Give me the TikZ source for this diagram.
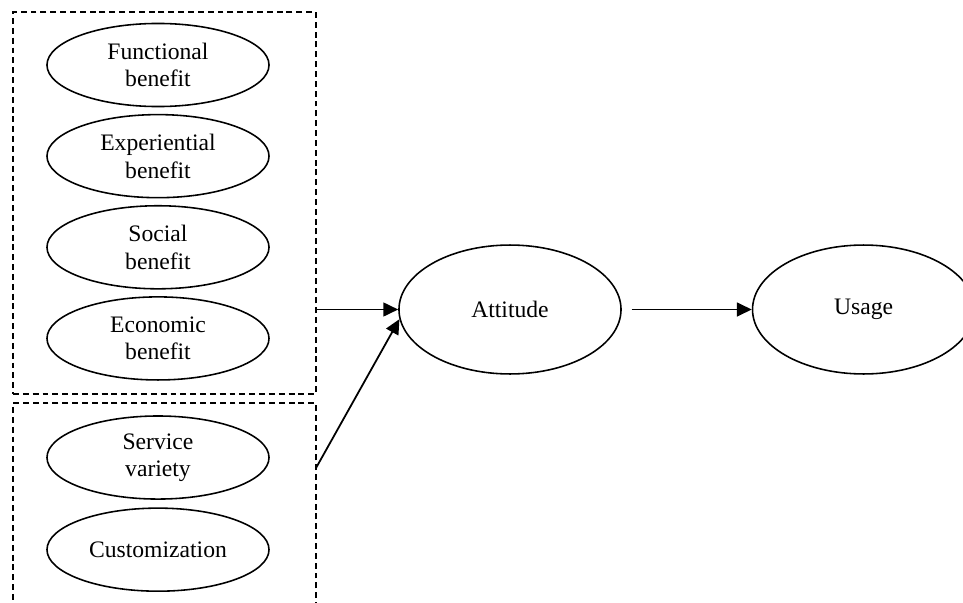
\documentclass[tikz,border=0pt]{standalone}
\usepackage{fontspec}
\setmainfont{Liberation Serif}
\usetikzlibrary{arrows.meta, positioning, shapes.geometric}

\begin{document}
\begin{tikzpicture}[
    x=0.508pt, y=-0.508pt,
    construct/.style={draw, ellipse, line width=0.8pt, inner sep=0pt, minimum width=112.8pt, minimum height=42.2pt, align=center, font=\fontsize{12}{14}\selectfont},
    outcome/.style={construct, minimum height=65.5pt},
    group/.style={draw, dashed, dash pattern=on 3pt off 2pt, line width=0.7pt, rectangle, inner sep=0pt},
    arrow/.style={-{Triangle[length=7.5pt, width=7pt]}, line width=0.9pt},
    node distance=3.3pt and 66pt
]
    \clip (0,0) rectangle (963,602);

    % Benefit constructs
    \node[construct] (functional) at (158,65) {Functional\\benefit};
    \node[construct, below=of functional] (experiential) {Experiential\\benefit};
    \node[construct, below=of experiential] (social) {Social\\benefit};
    \node[construct, below=of social] (economic) {Economic\\benefit};

    % Service constructs
    \node[construct, below=17.5pt of economic] (variety) {Service\\variety};
    \node[construct, below=3.8pt of variety] (customization) {Customization};

    % Dashed groups
    \node[group, minimum width=153.9pt, minimum height=194.1pt] (benefits) at (164.5,203) {};
    \node[group, minimum width=153.9pt, minimum height=110.2pt] (services) at (164.5,511.5) {};

    % Outcomes
    \node[outcome] (attitude) at (510,309.5) {Attitude};
    \node[outcome, right=of attitude] (usage) {Usage};

    \coordinate (servicesout) at (316,468);

    % Draw relationships
    \draw[arrow] (benefits.east |- attitude) -- (attitude);
    \draw[arrow] (servicesout) -- (attitude.185);
    \draw[arrow] ([xshift=5pt]attitude.east) -- (usage);
\end{tikzpicture}
\end{document}
